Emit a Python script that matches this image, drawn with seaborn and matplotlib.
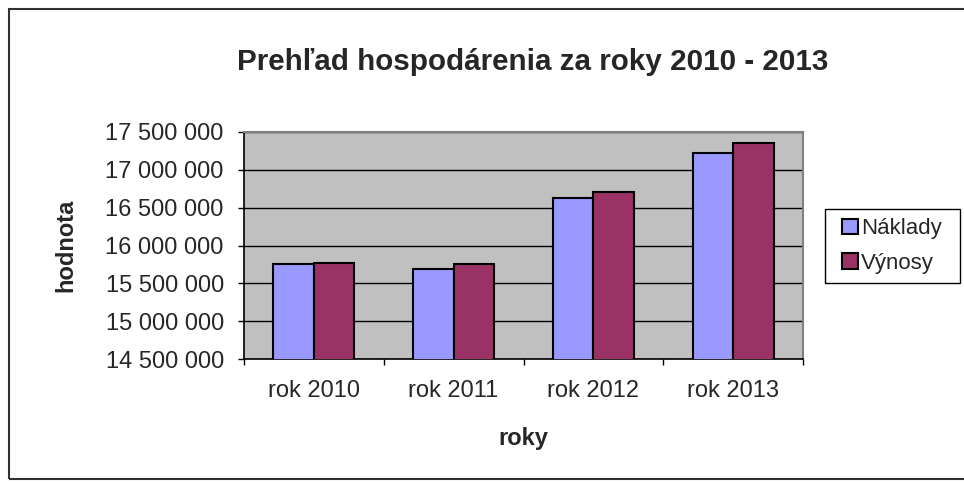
import numpy as np
import pandas as pd
import seaborn as sns
import matplotlib.pyplot as plt
from matplotlib.patches import Rectangle
from matplotlib.ticker import FuncFormatter, FixedLocator

# data
roky = ['rok 2010', 'rok 2011', 'rok 2012', 'rok 2013']
naklady = [15751000, 15694000, 16623000, 17218000]
vynosy = [15773000, 15755000, 16711000, 17355000]
serie = ['Náklady', 'Výnosy']
farby = ['#9999FF', '#993366']

df = pd.DataFrame({
    'rok': roky * 2,
    'hodnota': naklady + vynosy,
    'seria': [serie[0]] * len(roky) + [serie[1]] * len(roky),
})

sns.set_style('white')
plt.rcParams['font.family'] = ['Liberation Sans', 'DejaVu Sans']

W, H = 964, 482
fig = plt.figure(figsize=(W / 100, H / 100), dpi=100)
# plot area in pixels: x 244..803, y 132..359
ax = fig.add_axes([244 / W, 1 - 359 / H, (803 - 244) / W, (359 - 132) / H])

sns.barplot(data=df, x='rok', y='hodnota', hue='seria', palette=farby,
            width=0.58, gap=0, edgecolor='black', linewidth=1.5,
            saturation=1, ax=ax, legend=True, zorder=3)

ax.set_facecolor('#C0C0C0')
ax.set_ylim(14500000, 17500000)
ax.set_xlim(-0.5, 3.5)
ax.yaxis.set_major_locator(FixedLocator(np.arange(14500000, 17500001, 500000)))
ax.yaxis.set_major_formatter(FuncFormatter(lambda v, p: f"{int(v):,}".replace(',', ' ')))
ax.grid(axis='y', color='black', linewidth=1, zorder=0)
ax.set_axisbelow(True)

# tick marks sit on the category boundaries
ax.set_xticks(np.arange(-0.5, 4.0, 1.0), minor=True)
ax.tick_params(axis='x', which='major', length=0, labelsize=17, pad=15)
ax.tick_params(axis='x', which='minor', length=4.5, width=1, direction='out', color='black', bottom=True)
ax.tick_params(axis='y', length=4.5, width=1, direction='out', color='black', left=True, labelsize=17, pad=10)

for s in ['left', 'bottom']:
    ax.spines[s].set_color('black')
    ax.spines[s].set_linewidth(1.2)
for s in ['top', 'right']:
    ax.spines[s].set_color('#808080')
    ax.spines[s].set_linewidth(1.5)

ax.set_xlabel('roky', fontsize=17, fontweight='bold', labelpad=18)
ax.set_ylabel('hodnota', fontsize=17, fontweight='bold', labelpad=20)

# legend, its frame drawn separately to get the wide padding
leg = ax.legend(loc='center', bbox_to_anchor=(892 / W, 1 - 246 / H), bbox_transform=fig.transFigure,
                frameon=False, fontsize=16,
                handlelength=0.68, handleheight=0.68, handletextpad=0.15,
                borderpad=0.3, labelspacing=0.62)
for h in leg.legend_handles:
    h.set_edgecolor('black')
    h.set_linewidth(1.5)
fig.patches.append(Rectangle((825 / W, 1 - 283 / H), 135 / W, 74 / H, transform=fig.transFigure,
                             fill=False, edgecolor='black', linewidth=1))

fig.text(533 / W, 1 - 62 / H, 'Prehľad hospodárenia za roky 2010 - 2013',
         ha='center', va='center', fontsize=21.3, fontweight='bold')

# outer chart border (right side runs past the image edge)
fig.patches.append(Rectangle((9 / W, 1 - 479 / H), 1.05, 470 / H, transform=fig.transFigure,
                             fill=False, edgecolor='#303030', linewidth=1.5))

fig.savefig('out.png', dpi=100)
